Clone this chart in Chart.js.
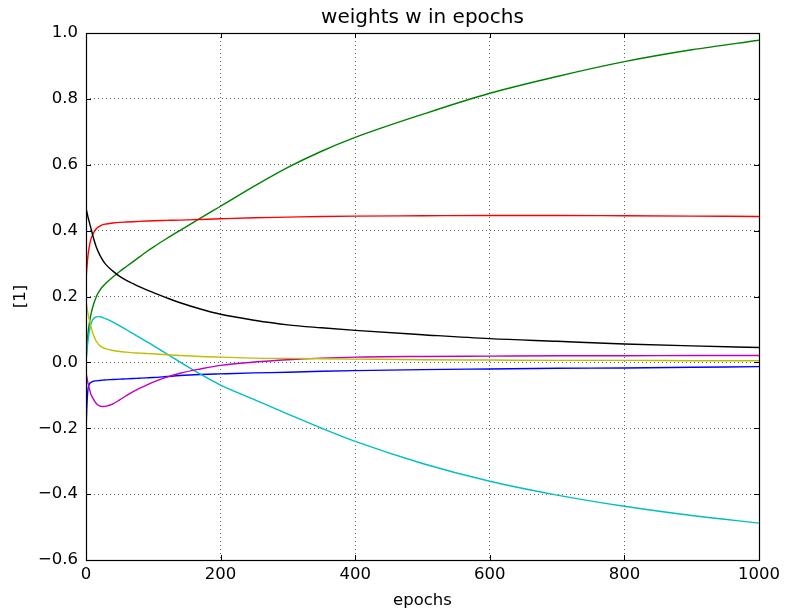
<!DOCTYPE html>
<html>
<head>
<meta charset="utf-8">
<script src="https://cdn.jsdelivr.net/npm/chart.js@4/dist/chart.umd.min.js"></script>
<style>
  html, body { margin: 0; padding: 0; background: #ffffff; }
  #wrap { width: 786px; height: 612px; position: relative; }
</style>
</head>
<body>
<div id="wrap"><canvas id="c" width="786" height="612"></canvas></div>
<script>
// ---- data ----
const epochs   = [0, 1, 2, 3, 5, 7, 10, 15, 20, 25, 30, 40, 50, 60, 70, 80, 90, 100, 120, 140, 170, 200, 250, 300, 350, 400, 500, 600, 700, 800, 900, 1000];
const wBlue    = [-0.21, -0.15, -0.105, -0.08, -0.066, -0.061, -0.058, -0.056, -0.055, -0.054, -0.053, -0.052, -0.051, -0.050, -0.049, -0.048, -0.047, -0.046, -0.043, -0.040, -0.037, -0.035, -0.032, -0.030, -0.027, -0.025, -0.022, -0.020, -0.018, -0.017, -0.015, -0.013];
const wGreen   = [0.0, 0.035, 0.065, 0.088, 0.119, 0.142, 0.168, 0.198, 0.217, 0.231, 0.241, 0.259, 0.276, 0.291, 0.306, 0.321, 0.336, 0.350, 0.376, 0.401, 0.438, 0.474, 0.535, 0.592, 0.641, 0.683, 0.753, 0.817, 0.868, 0.913, 0.949, 0.978];
const wRed     = [0.25, 0.28, 0.305, 0.325, 0.352, 0.372, 0.388, 0.405, 0.413, 0.418, 0.420, 0.423, 0.425, 0.426, 0.427, 0.428, 0.429, 0.430, 0.431, 0.432, 0.434, 0.436, 0.439, 0.441, 0.443, 0.444, 0.445, 0.446, 0.446, 0.445, 0.444, 0.443];
const wCyan    = [0.0, 0.025, 0.048, 0.066, 0.095, 0.115, 0.129, 0.138, 0.139, 0.136, 0.132, 0.122, 0.111, 0.099, 0.087, 0.075, 0.063, 0.051, 0.026, 0.001, -0.036, -0.069, -0.113, -0.157, -0.200, -0.240, -0.307, -0.361, -0.403, -0.437, -0.465, -0.488];
const wMagenta = [-0.03, -0.042, -0.053, -0.064, -0.080, -0.095, -0.108, -0.124, -0.132, -0.134, -0.133, -0.126, -0.114, -0.101, -0.089, -0.078, -0.069, -0.060, -0.045, -0.033, -0.020, -0.009, 0.001, 0.008, 0.013, 0.016, 0.018, 0.019, 0.020, 0.020, 0.021, 0.021];
const wYellow  = [0.185, 0.172, 0.160, 0.148, 0.129, 0.112, 0.089, 0.065, 0.052, 0.045, 0.041, 0.036, 0.033, 0.031, 0.029, 0.028, 0.027, 0.026, 0.023, 0.021, 0.018, 0.016, 0.013, 0.012, 0.011, 0.010, 0.008, 0.007, 0.006, 0.006, 0.005, 0.005];
const wBlack   = [0.468, 0.459, 0.450, 0.441, 0.425, 0.410, 0.386, 0.352, 0.328, 0.310, 0.296, 0.277, 0.261, 0.249, 0.239, 0.229, 0.220, 0.212, 0.196, 0.181, 0.162, 0.146, 0.128, 0.114, 0.105, 0.097, 0.084, 0.072, 0.064, 0.056, 0.050, 0.045];

const xTickValues = [0, 200, 400, 600, 800, 1000];
const yTickValues = [-0.6, -0.4, -0.2, 0.0, 0.2, 0.4, 0.6, 0.8, 1.0];
const titleText = 'weights w in epochs';
const xLabel = 'epochs';
const yLabel = '[1]';

const seriesList = [
  { name: 'w0', values: wBlue,    color: '#0000ff' },
  { name: 'w1', values: wGreen,   color: '#008000' },
  { name: 'w2', values: wRed,     color: '#ff0000' },
  { name: 'w3', values: wCyan,    color: '#00bfbf' },
  { name: 'w4', values: wMagenta, color: '#bf00bf' },
  { name: 'w5', values: wYellow,  color: '#bfbf00' },
  { name: 'w6', values: wBlack,   color: '#000000' }
];

const FONT = "'DejaVu Sans', 'Liberation Sans', sans-serif";

const datasets = seriesList.map((s, i) => ({
  label: s.name,
  data: epochs.map((e, k) => ({ x: e, y: s.values[k] })),
  borderColor: s.color,
  backgroundColor: s.color,
  borderWidth: 1.4,
  pointRadius: 0,
  cubicInterpolationMode: 'monotone',
  fill: false,
  order: seriesList.length - i
}));

function fmt(v) {
  const s = Number(v).toFixed(1);
  return s.replace('-', '\u2212');
}

const framePlugin = {
  id: 'framePlugin',
  afterDraw(chart) {
    const ctx = chart.ctx;
    const a = chart.chartArea;
    const xs = chart.scales.x, ys = chart.scales.y;
    ctx.save();
    ctx.strokeStyle = '#000';
    ctx.lineWidth = 1;
    ctx.beginPath();
    xTickValues.forEach(v => {
      const px = Math.round(xs.getPixelForValue(v)) + 0.5;
      ctx.moveTo(px, a.bottom); ctx.lineTo(px, a.bottom - 5);
      ctx.moveTo(px, a.top); ctx.lineTo(px, a.top + 5);
    });
    yTickValues.forEach(v => {
      const py = Math.round(ys.getPixelForValue(v)) + 0.5;
      ctx.moveTo(a.left, py); ctx.lineTo(a.left + 5, py);
      ctx.moveTo(a.right, py); ctx.lineTo(a.right - 5, py);
    });
    ctx.stroke();
    ctx.lineWidth = 1.2;
    ctx.strokeRect(Math.round(a.left) + 0.5, Math.round(a.top) + 0.5,
                   Math.round(a.right - a.left), Math.round(a.bottom - a.top));
    ctx.fillStyle = '#000';
    ctx.textAlign = 'center';
    ctx.textBaseline = 'middle';
    ctx.font = '20px ' + FONT;
    ctx.fillText(titleText, (a.left + a.right) / 2, 18);
    ctx.font = '16.5px ' + FONT;
    ctx.fillText(xLabel, (a.left + a.right) / 2, 601);
    ctx.translate(21, (a.top + a.bottom) / 2);
    ctx.rotate(-Math.PI / 2);
    ctx.fillText(yLabel, 0, 0);
    ctx.restore();
  }
};

new Chart(document.getElementById('c'), {
  type: 'line',
  data: { datasets },
  options: {
    responsive: false,
    animation: false,
    devicePixelRatio: 1,
    layout: { padding: { top: 33, right: 27, left: 0, bottom: 0 } },
    plugins: {
      legend: { display: false },
      title: { display: false },
      tooltip: { enabled: false }
    },
    scales: {
      x: {
        type: 'linear',
        min: 0, max: 1000,
        afterBuildTicks(scale) { scale.ticks = xTickValues.map(v => ({ value: v })); },
        afterFit(scale) { scale.height = 52; },
        ticks: {
          color: '#000',
          font: { family: FONT, size: 16.5 },
          padding: 5,
          maxRotation: 0,
          callback: v => String(v)
        },
        grid: {
          color: 'rgba(0,0,0,0.6)',
          lineWidth: 1,
          drawTicks: false
        },
        border: { display: false, dash: [1, 3] }
      },
      y: {
        type: 'linear',
        min: -0.6, max: 1.0,
        afterBuildTicks(scale) { scale.ticks = yTickValues.map(v => ({ value: v })); },
        afterFit(scale) { scale.width = 86; },
        ticks: {
          color: '#000',
          font: { family: FONT, size: 16.5 },
          padding: 8,
          callback: v => fmt(v)
        },
        grid: {
          color: 'rgba(0,0,0,0.6)',
          lineWidth: 1,
          drawTicks: false
        },
        border: { display: false, dash: [1, 3] }
      }
    }
  },
  plugins: [framePlugin]
});
</script>
</body>
</html>
